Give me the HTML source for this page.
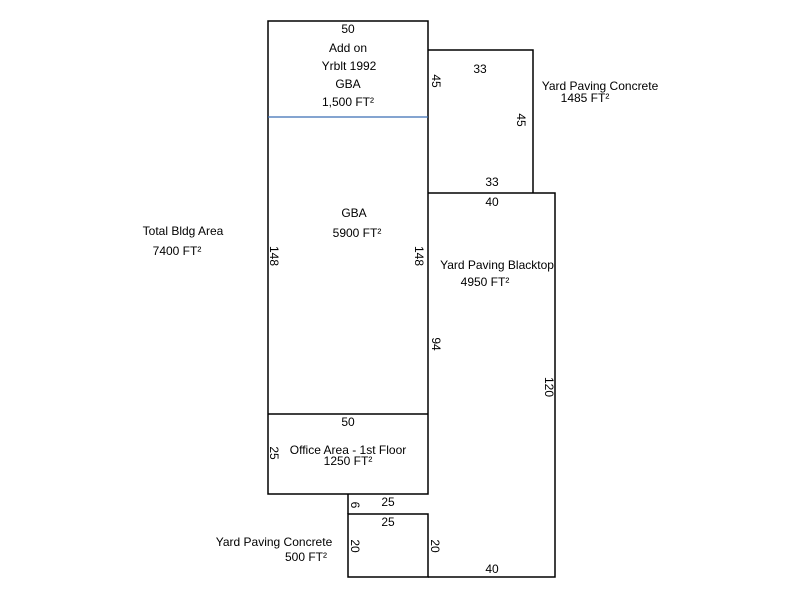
<!DOCTYPE html>
<html><head><style>body{margin:0;background:#fff}svg{display:block}text{font-family:"Liberation Sans",Arial,sans-serif;font-size:12px;fill:#000}</style></head>
<body>
<svg width="800" height="600" viewBox="0 0 800 600" xmlns="http://www.w3.org/2000/svg">
<g fill="none" stroke="#000" stroke-width="1.5">
<rect x="268" y="21" width="160" height="473"/>
<line x1="268" y1="414" x2="428" y2="414"/>
<polyline points="428,50 533,50 533,193"/>
<polyline points="428,193 555,193 555,577 428,577"/>
<rect x="348" y="514" width="80" height="63"/>
<line x1="348" y1="494" x2="348" y2="514"/>
</g>
<line x1="268" y1="117" x2="428" y2="117" stroke="#3a6db5" stroke-width="1.2"/>
<g text-anchor="middle">
<text x="348" y="33">50</text>
<text x="348" y="52">Add on</text>
<text x="349" y="70">Yrblt 1992</text>
<text x="348" y="88">GBA</text>
<text x="348" y="106">1,500 FT²</text>
<text x="480" y="73">33</text>
<text x="492" y="186">33</text>
<text x="492" y="206">40</text>
<text x="354" y="217">GBA</text>
<text x="357" y="237">5900 FT²</text>
<text x="183" y="235">Total Bldg Area</text>
<text x="177" y="255">7400 FT²</text>
<text x="497" y="269">Yard Paving Blacktop</text>
<text x="485" y="286">4950 FT²</text>
<text x="600" y="90">Yard Paving Concrete</text>
<text x="585" y="102">1485 FT²</text>
<text x="348" y="426">50</text>
<text x="348" y="454">Office Area - 1st Floor</text>
<text x="348" y="465">1250 FT²</text>
<text x="388" y="506">25</text>
<text x="388" y="526">25</text>
<text x="274" y="546">Yard Paving Concrete</text>
<text x="306" y="561">500 FT²</text>
<text x="492" y="573">40</text>
</g>
<g text-anchor="middle">
<text transform="translate(432,81) rotate(90)">45</text>
<text transform="translate(517,120) rotate(90)">45</text>
<text transform="translate(270,256) rotate(90)">148</text>
<text transform="translate(415,256) rotate(90)">148</text>
<text transform="translate(432,344) rotate(90)">94</text>
<text transform="translate(545,387) rotate(90)">120</text>
<text transform="translate(270,453) rotate(90)">25</text>
<text transform="translate(351,505) rotate(90)">6</text>
<text transform="translate(351,546) rotate(90)">20</text>
<text transform="translate(431,546) rotate(90)">20</text>
</g>
</svg>
</body></html>
